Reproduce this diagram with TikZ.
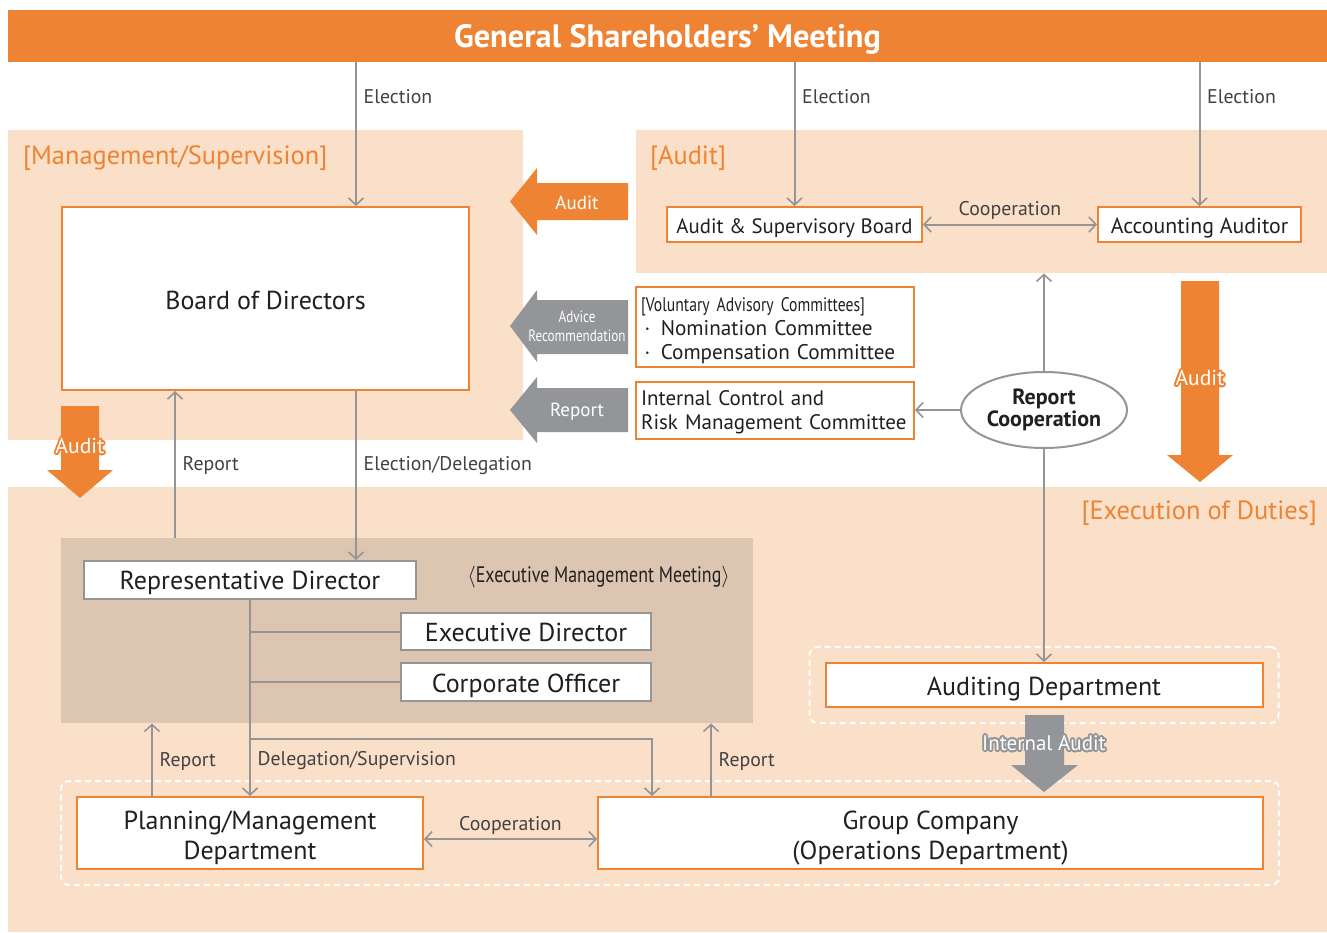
\documentclass[tikz,border=0pt]{standalone}
\usepackage{fontspec}
\setmainfont{PT Sans}
\newfontfamily\narrowfont[FakeStretch=0.8]{PT Sans}
\usepackage{contour}
\contourlength{0.9pt}
\usetikzlibrary{arrows.meta,positioning,shapes.geometric,fit,backgrounds}
\definecolor{orangeC}{HTML}{EE8433}
\definecolor{peachC}{HTML}{FADFC9}
\definecolor{meetC}{HTML}{DCC6B2}
\definecolor{arrowG}{HTML}{939598}
\definecolor{lineG}{HTML}{959595}
\definecolor{textD}{HTML}{231F20}
\newcommand{\fs}[2]{\fontsize{#1}{#2}\selectfont}
\newcommand{\lowerby}[2]{\raisebox{-#1}[\height][\depth]{#2}}

\begin{document}
\begin{tikzpicture}[
   x=0.5pt,y=-0.5pt,
   text=textD,
   region/.style={fill=peachC,inner sep=0pt},
   orbox/.style={draw=orangeC,line width=1pt,fill=white,inner sep=2pt,align=center,font=\fs{10.4}{12}},
   grbox/.style={draw=lineG,line width=1pt,fill=white,inner sep=2pt,align=center,font=\fs{13}{15}},
   dashbox/.style={draw=white,line width=1pt,dash pattern=on 3pt off 2pt,rounded corners=4pt,inner sep=7.5pt},
   sect/.style={text=orangeC,font=\fs{13.2}{15},anchor=west},
   lbl/.style={font=\fs{9.9}{11},text=textD!85},
   conn/.style={draw=lineG,line width=1pt},
   >={Straight Barb[length=3.5pt,width=7.5pt,line width=0.8pt]}]
 \fill[white] (0,0) rectangle (1327,932);
 \node[fill=orangeC,minimum width=659.5pt,minimum height=26pt,text=white,font=\bfseries\fs{16.2}{19}] (gsm) at (667.5,36) {\lowerby{1.5pt}{General Shareholders’ Meeting}};
 \node[region,minimum width=257.5pt,minimum height=155pt] (mgmt) at (265.5,285) {};
 \node[region,minimum width=345.5pt,minimum height=71.5pt] (auditR) at (981.5,201.5) {};
 \node[region,minimum width=659.5pt,minimum height=222.5pt] (execR) at (667.5,709.5) {};
 \node[fill=meetC,inner sep=0pt,minimum width=346pt,minimum height=92.5pt] (emm) at (407,630.5) {};
 \node[sect] (mgmtL) at (16,158.5) {[Management/Supervision]};
 \node[sect] (auditL) at (643,158.5) {[Audit]};
 \node[sect,anchor=east] (execL) at (1324,513.5) {[Execution of Duties]};
 \node[anchor=east,font=\narrowfont\fs{11.2}{13}] (emmL) at (737,577) {$\langle$Executive Management Meeting$\rangle$};
 % boxes
 \node[orbox,minimum width=203.5pt,minimum height=91.5pt,font=\fs{13}{15}] (board) at (265.5,298.5) {\lowerby{1pt}{Board of Directors}};
 \node[orbox,minimum width=127.5pt,minimum height=17.5pt] (asb) at (794.5,224.5) {\lowerby{2pt}{Audit \& Supervisory Board}};
 \node[orbox,minimum width=101.5pt,minimum height=17.5pt,font=\fs{10.9}{12}] (acc) at (1199.5,224.5) {\lowerby{2pt}{Accounting Auditor}};
 \node[orbox,minimum width=139pt,minimum height=40pt,align=left,text width=134pt,font=\fs{10.6}{12}] (vol) at (775,327)
   {\lowerby{2pt}{\begin{tabular}{@{}l@{}}{\narrowfont\fs{9.8}{12}[Voluntary Advisory Committees]}\\\,·\, Nomination Committee\\\,·\, Compensation Committee\end{tabular}}};
 \node[orbox,minimum width=139pt,minimum height=28.5pt,align=left,text width=134pt,font=\fs{10.5}{12}] (icr) at (775,410)
   {\lowerby{1.5pt}{\begin{tabular}{@{}l@{}}Internal Control and\\Risk Management Committee\end{tabular}}};
 \node[draw=lineG,line width=1pt,ellipse,fill=white,minimum width=83pt,minimum height=38pt,inner sep=0pt,align=center,font=\bfseries\fs{11}{11}] (rc) at (1044,410) {Report\\Cooperation};
 \node[grbox,minimum width=166pt,minimum height=19pt] (rep) at (250,580) {\lowerby{1.5pt}{Representative Director}};
 \node[grbox,minimum width=125pt,minimum height=18.5pt] (exd) at (526,631.5) {\lowerby{0.5pt}{Executive Director}};
 \node[grbox,minimum width=125pt,minimum height=19pt] (cor) at (526,682) {\lowerby{2pt}{Corporate Officer}};
 \node[orbox,minimum width=218.5pt,minimum height=22pt,font=\fs{13}{15}] (aud) at (1044,685) {\lowerby{2pt}{Auditing Department}};
 \node[orbox,minimum width=173pt,minimum height=36pt,font=\fs{13}{15}] (plan) at (250,833)
   {\lowerby{2.5pt}{\begin{tabular}{@{}c@{}}Planning/Management\\Department\end{tabular}}};
 \node[orbox,minimum width=332.5pt,minimum height=36pt,font=\fs{13}{15}] (grp) at (930.5,833)
   {\lowerby{2.5pt}{\begin{tabular}{@{}c@{}}Group Company\\(Operations Department)\end{tabular}}};
 \node[dashbox,fit=(aud)] (audF) {};
 \node[dashbox,fit=(plan)(grp)] (botF) {};
 % block arrows
 \fill[orangeC] (628,183) -- (537,183) -- (537,168) -- (510,201.5) -- (537,235) -- (537,220) -- (628,220) -- cycle;
 \node[text=white,font=\fs{9.5}{10}] (auditA) at (577,203) {Audit};
 \fill[arrowG] (628,300) -- (537,300) -- (537,290) -- (510,326) -- (537,362) -- (537,354) -- (628,354) -- cycle;
 \node[text=white,font=\narrowfont\fs{8.2}{9.5},align=center] (adv) at (577,326) {Advice\\Recommendation};
 \fill[arrowG] (628,388) -- (537,388) -- (537,377) -- (510,410) -- (537,443) -- (537,432) -- (628,432) -- cycle;
 \node[text=white,font=\fs{9.5}{10}] (repA) at (577,412) {Report};
 \fill[orangeC] (61,406) -- (99,406) -- (99,470) -- (113,470) -- (80,498) -- (47,470) -- (61,470) -- cycle;
 \node[text=white,font=\fs{10.8}{11}] (auditB) at (80,447) {\contour{orangeC}{Audit}};
 \fill[orangeC] (1181,281) -- (1219,281) -- (1219,455) -- (1233,455) -- (1200,482) -- (1167,455) -- (1181,455) -- cycle;
 \node[text=white,font=\fs{10.8}{11}] (auditC) at (1200,379) {\contour{orangeC}{Audit}};
 \fill[arrowG] (1025,715) -- (1064,715) -- (1064,765) -- (1078,765) -- (1044,792) -- (1011,765) -- (1025,765) -- cycle;
 \node[text=white,font=\fs{10.5}{11}] (intA) at (1044,744) {\contour{arrowG}{Internal Audit}};
 % connectors
 \coordinate (x1) at (356,0);
 \coordinate (x2) at (175,0);
 \coordinate (x3) at (152,0);
 \coordinate (x4) at (711,0);
 \coordinate (y1) at (0,739);
 \draw[conn,->] (gsm.south -| x1) -- node[lbl,right,pos=0.24]{Election} (board.north -| x1);
 \draw[conn,->] (gsm.south -| asb.north) -- node[lbl,right,pos=0.24]{Election} (asb.north);
 \draw[conn,->] (gsm.south -| acc.north) -- node[lbl,right,pos=0.24]{Election} (acc.north);
 \draw[conn,<->] (asb.east) -- node[lbl,above,yshift=-1.5pt]{Cooperation} (acc.west);
 \draw[conn,->] (board.south -| x1) -- node[lbl,right,pos=0.44]{Election/Delegation} (rep.north -| x1);
 \draw[conn,->] (emm.north -| x2) -- node[lbl,right,pos=0.49]{Report} (board.south -| x2);
 \draw[conn,->] (rc.north) -- (auditR.south -| rc.north);
 \draw[conn,->] (rc.west) -- (icr.east |- rc.west);
 \draw[conn,->] (rc.south) -- (aud.north);
 \draw[conn] (rep.south |- exd.west) -- (exd.west);
 \draw[conn] (rep.south |- cor.west) -- (cor.west);
 \draw[conn,->] (rep.south) -- node[lbl,right,pos=0.82]{Delegation/Supervision} (plan.north);
 \draw[conn,->] (rep.south |- y1) -| (grp.north -| exd.east);
 \draw[conn,->] (plan.north -| x3) -- node[lbl,right,pos=0.47]{Report} (emm.south -| x3);
 \draw[conn,->] (grp.north -| x4) -- node[lbl,right,pos=0.47]{Report} (emm.south -| x4);
 \draw[conn,<->] ([yshift=-3pt]plan.east) -- node[lbl,above,yshift=-1.5pt]{Cooperation} ([yshift=-3pt]grp.west);
\end{tikzpicture}
\end{document}
